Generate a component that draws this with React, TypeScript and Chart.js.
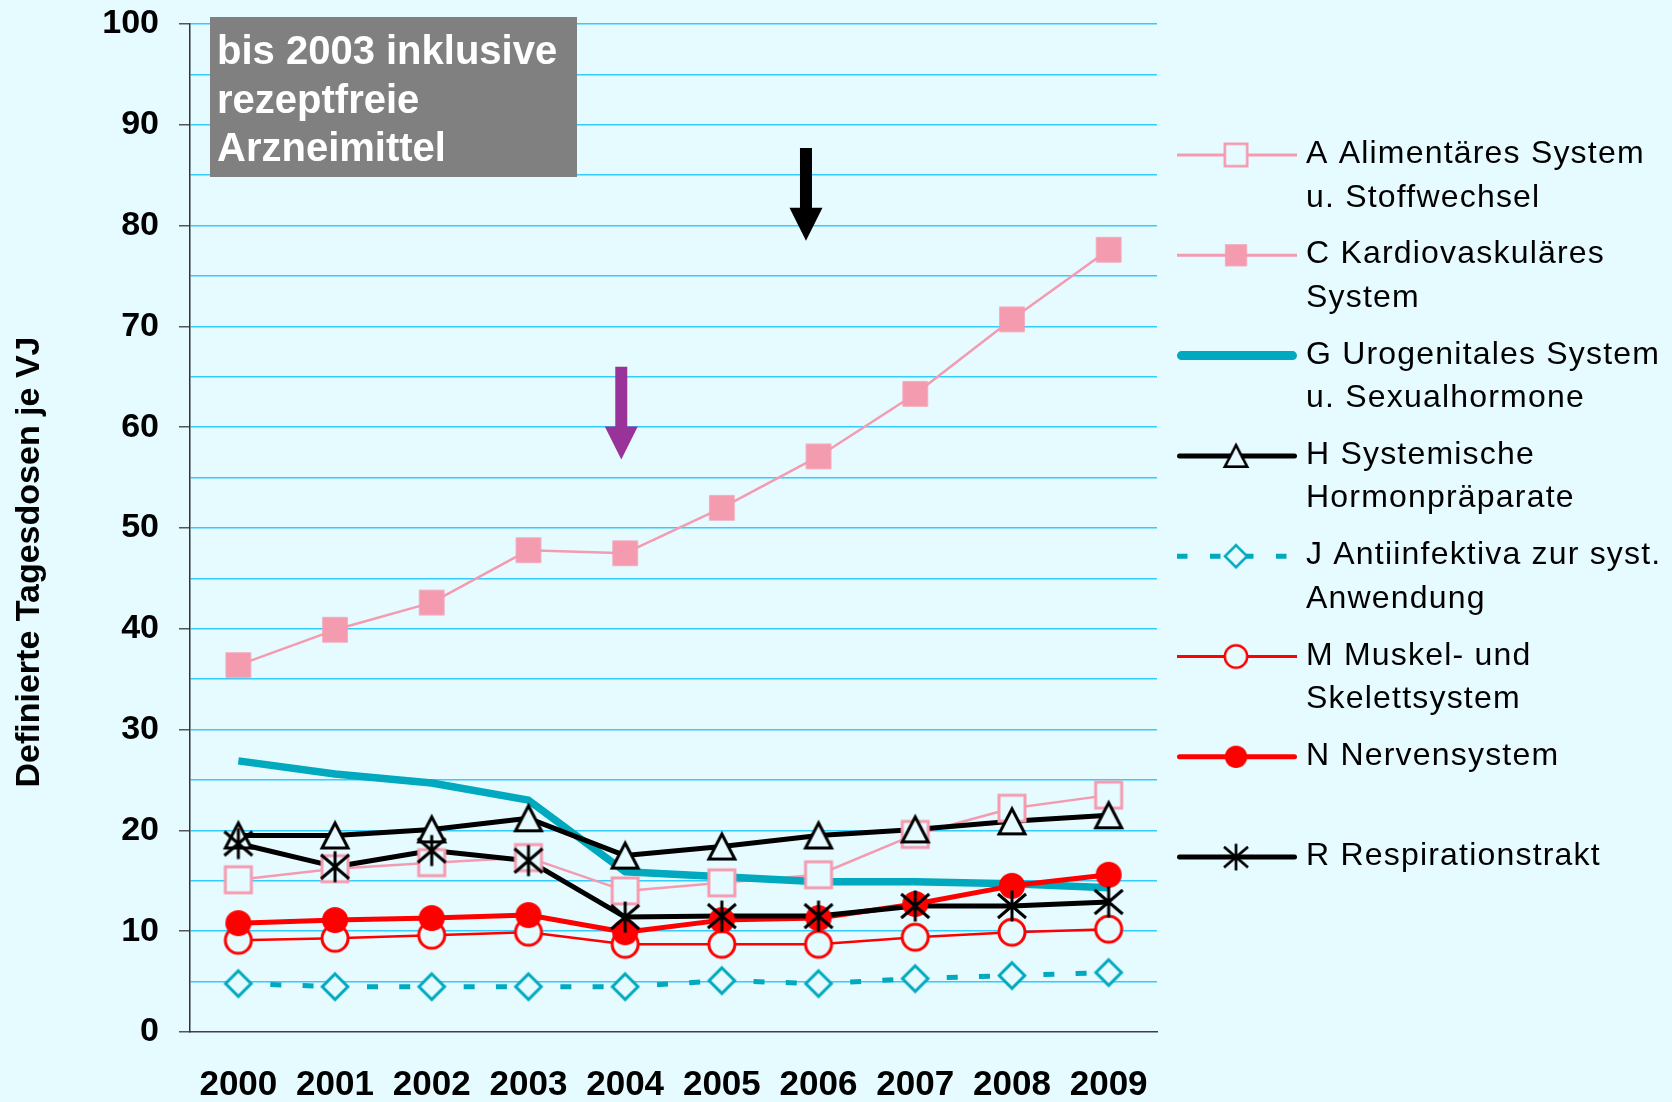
import React, { useEffect, useRef } from 'react';
import { Chart, registerables } from 'chart.js';

Chart.register(...registerables);

// ---------- data ----------
const years = ['2000', '2001', '2002', '2003', '2004', '2005', '2006', '2007', '2008', '2009'];
const alimentaer = [15.1, 16.2, 16.8, 17.3, 14.0, 14.8, 15.6, 19.6, 22.2, 23.5];
const kardiovaskulaer = [36.4, 39.9, 42.6, 47.8, 47.5, 52.0, 57.1, 63.3, 70.7, 77.6];
const urogenital = [26.9, 25.6, 24.7, 23.0, 15.9, 15.4, 14.9, 14.9, 14.7, 14.3];
const hormonpraeparate = [19.5, 19.5, 20.1, 21.2, 17.5, 18.4, 19.5, 20.1, 20.9, 21.5];
const antiinfektiva = [4.8, 4.5, 4.5, 4.5, 4.5, 5.1, 4.8, 5.3, 5.6, 5.9];
const muskelSkelett = [9.1, 9.3, 9.6, 9.9, 8.7, 8.7, 8.7, 9.4, 9.9, 10.2];
const nervensystem = [10.8, 11.1, 11.3, 11.6, 9.9, 11.1, 11.3, 12.7, 14.5, 15.6];
const respirationstrakt = [18.7, 16.4, 18.0, 17.0, 11.4, 11.5, 11.5, 12.5, 12.5, 12.9];

const legendLabels = [
  ['A Alimentäres System', 'u. Stoffwechsel'],
  ['C Kardiovaskuläres', 'System'],
  ['G Urogenitales System', 'u. Sexualhormone'],
  ['H Systemische', 'Hormonpräparate'],
  ['J Antiinfektiva zur syst.', 'Anwendung'],
  ['M Muskel- und', 'Skelettsystem'],
  ['N Nervensystem'],
  ['R Respirationstrakt'],
];

const yAxisTitle = 'Definierte Tagesdosen je VJ';
const yMin = 0;
const yMax = 100;
const yGridStep = 5;
const yLabelStep = 10;

const noteLines = ['bis 2003 inklusive', 'rezeptfreie', 'Arzneimittel'];

// arrows: position on category axis (index units), start value, end (tip) value
const arrowCategoryPos = [3.96, 5.87];
const arrowStartValues = [66.0, 87.7];
const arrowEndValues = [56.8, 78.5];

// ---------- styles ----------
const FONT = "'Liberation Sans', Arial, Helvetica, sans-serif";
const BG = '#E6FBFF';
const GRID = '#33CCFF';
const PINK = '#F59BB0';
const TEAL = '#00A9BE';
const RED = '#FF0000';
const BLACK = '#000000';
const arrowColors = ['#993399', '#000000'];

const seriesValues = [
  alimentaer,
  kardiovaskulaer,
  urogenital,
  hormonpraeparate,
  antiinfektiva,
  muskelSkelett,
  nervensystem,
  respirationstrakt,
];

type SeriesStyle = {
  color: string;
  width: number;
  marker: string | null;
  dash?: number[];
  dashOffset?: number;
  legendWidth: number;
  legendDash?: number[];
  legendCap: CanvasLineCap;
};

const seriesStyles: SeriesStyle[] = [
  { color: PINK, width: 2.5, marker: 'openSquare', legendWidth: 3, legendCap: 'butt' },
  { color: PINK, width: 2.5, marker: 'filledSquare', legendWidth: 3, legendCap: 'butt' },
  { color: TEAL, width: 7.5, marker: null, legendWidth: 9, legendCap: 'round' },
  { color: BLACK, width: 5, marker: 'triangle', legendWidth: 5, legendCap: 'round' },
  {
    color: TEAL,
    width: 5,
    marker: 'diamond',
    dash: [11, 21.23],
    dashOffset: 0.23,
    legendWidth: 5,
    legendDash: [10.5, 22.5],
    legendCap: 'butt',
  },
  { color: RED, width: 2.5, marker: 'openCircle', legendWidth: 3, legendCap: 'butt' },
  { color: RED, width: 5, marker: 'filledCircle', legendWidth: 5, legendCap: 'round' },
  { color: BLACK, width: 5, marker: 'asterisk', legendWidth: 5, legendCap: 'round' },
];

function makeMarker(kind: string): HTMLCanvasElement {
  const s = 34;
  const c = document.createElement('canvas');
  c.width = s;
  c.height = s;
  const ctx = c.getContext('2d') as CanvasRenderingContext2D;
  const m = s / 2;
  ctx.lineJoin = 'miter';
  ctx.lineWidth = 3;
  switch (kind) {
    case 'openSquare':
      ctx.fillStyle = BG;
      ctx.fillRect(m - 13, m - 13, 26, 26);
      ctx.strokeStyle = PINK;
      ctx.strokeRect(m - 13, m - 13, 26, 26);
      break;
    case 'filledSquare':
      ctx.fillStyle = PINK;
      ctx.fillRect(m - 12.75, m - 12.75, 25.5, 25.5);
      break;
    case 'triangle':
      ctx.beginPath();
      ctx.moveTo(m, m - 12.5);
      ctx.lineTo(m + 13, m + 12.5);
      ctx.lineTo(m - 13, m + 12.5);
      ctx.closePath();
      ctx.fillStyle = BG;
      ctx.fill();
      ctx.strokeStyle = BLACK;
      ctx.stroke();
      break;
    case 'diamond':
      ctx.beginPath();
      ctx.moveTo(m, m - 12.8);
      ctx.lineTo(m + 12.8, m);
      ctx.lineTo(m, m + 12.8);
      ctx.lineTo(m - 12.8, m);
      ctx.closePath();
      ctx.fillStyle = BG;
      ctx.fill();
      ctx.strokeStyle = TEAL;
      ctx.stroke();
      break;
    case 'openCircle':
      ctx.beginPath();
      ctx.arc(m, m, 13, 0, Math.PI * 2);
      ctx.fillStyle = BG;
      ctx.fill();
      ctx.strokeStyle = RED;
      ctx.stroke();
      break;
    case 'filledCircle':
      ctx.beginPath();
      ctx.arc(m, m, 13, 0, Math.PI * 2);
      ctx.fillStyle = RED;
      ctx.fill();
      break;
    case 'asterisk':
      ctx.strokeStyle = BLACK;
      ctx.lineCap = 'butt';
      ctx.beginPath();
      ctx.moveTo(m - 14, m - 12);
      ctx.lineTo(m + 14, m + 12);
      ctx.moveTo(m - 14, m + 12);
      ctx.lineTo(m + 14, m - 12);
      ctx.moveTo(m, m - 15.5);
      ctx.lineTo(m, m + 15.5);
      ctx.stroke();
      break;
  }
  return c;
}

export default function App() {
  const canvasRef = useRef<HTMLCanvasElement | null>(null);

  useEffect(() => {
    const canvas = canvasRef.current;
    if (!canvas) return;

    const markers = seriesStyles.map((s) => (s.marker ? makeMarker(s.marker) : null));

    const lineDatasets = seriesValues.map((vals, i) => {
      const st = seriesStyles[i];
      return {
        type: 'line' as const,
        label: legendLabels[i].join(' '),
        data: vals,
        borderColor: st.color,
        borderWidth: st.width,
        borderDash: st.dash || [],
        borderDashOffset: st.dashOffset || 0,
        borderCapStyle: 'butt' as const,
        borderJoinStyle: 'round' as const,
        pointRadius: 0,
        tension: 0,
        fill: false,
        order: 100 - i,
      };
    });

    const markerDatasets: any[] = [];
    seriesValues.forEach((vals, i) => {
      const mk = markers[i];
      if (!mk) return;
      markerDatasets.push({
        type: 'line' as const,
        label: legendLabels[i].join(' ') + ' (Marker)',
        data: vals,
        showLine: false,
        pointStyle: mk,
        pointRadius: 15,
        pointHoverRadius: 15,
        order: 50 - i,
      });
    });

    const backgroundPlugin = {
      id: 'bg',
      beforeDraw(chart: any) {
        const ctx = chart.ctx as CanvasRenderingContext2D;
        ctx.save();
        ctx.fillStyle = BG;
        ctx.fillRect(0, 0, chart.width, chart.height);
        ctx.restore();
      },
    };

    const annotationPlugin = {
      id: 'annotations',
      afterDraw(chart: any) {
        const ctx = chart.ctx as CanvasRenderingContext2D;
        const xs = chart.scales.x;
        const ys = chart.scales.y;
        ctx.save();
        // note box
        const left = chart.chartArea.left + 20;
        ctx.fillStyle = '#808080';
        ctx.fillRect(left, 17, 367, 160);
        ctx.fillStyle = '#FFFFFF';
        ctx.font = `bold 40px ${FONT}`;
        ctx.textAlign = 'left';
        ctx.textBaseline = 'alphabetic';
        noteLines.forEach((t, j) => ctx.fillText(t, left + 7, 64 + 48.5 * j));

        // arrows
        arrowCategoryPos.forEach((pos, i) => {
          const x = xs.getPixelForValue(pos);
          const yTop = ys.getPixelForValue(arrowStartValues[i]);
          const yTip = ys.getPixelForValue(arrowEndValues[i]);
          const headLen = 33;
          const headHalf = 16.5;
          const shaftHalf = 6;
          const yBase = yTip - headLen;
          ctx.fillStyle = arrowColors[i];
          ctx.beginPath();
          ctx.moveTo(x - shaftHalf, yTop);
          ctx.lineTo(x + shaftHalf, yTop);
          ctx.lineTo(x + shaftHalf, yBase);
          ctx.lineTo(x + headHalf, yBase);
          ctx.lineTo(x, yTip);
          ctx.lineTo(x - headHalf, yBase);
          ctx.lineTo(x - shaftHalf, yBase);
          ctx.closePath();
          ctx.fill();
        });

        // y axis title
        ctx.save();
        ctx.translate(30, 562);
        ctx.rotate(-Math.PI / 2);
        ctx.fillStyle = BLACK;
        ctx.font = `bold 34px ${FONT}`;
        ctx.textAlign = 'center';
        ctx.textBaseline = 'middle';
        ctx.fillText(yAxisTitle, 0, 0);
        ctx.restore();

        // legend
        const lx0 = 1177;
        const lx1 = 1297;
        const mx = 1236;
        const tx = 1306;
        legendLabels.forEach((lines, i) => {
          const st = seriesStyles[i];
          const y = 155 + 100.3 * i;
          ctx.save();
          ctx.strokeStyle = st.color;
          ctx.lineWidth = st.legendWidth;
          ctx.lineCap = st.legendCap;
          ctx.setLineDash(st.legendDash || []);
          ctx.lineDashOffset = 0;
          const capPad = st.legendCap === 'round' ? st.legendWidth / 2 : 0;
          ctx.beginPath();
          ctx.moveTo(lx0 + capPad, y);
          ctx.lineTo(lx1 - capPad, y);
          ctx.stroke();
          ctx.restore();
          const mk = markers[i];
          if (mk) {
            const sc = 0.86;
            ctx.drawImage(mk, mx - 17 * sc, y - 17 * sc, 34 * sc, 34 * sc);
          }
          ctx.fillStyle = BLACK;
          ctx.font = `32px ${FONT}`;
          ctx.textAlign = 'left';
          ctx.textBaseline = 'alphabetic';
          (ctx as any).letterSpacing = '1.2px';
          lines.forEach((t, j) => ctx.fillText(t, tx, y + 8 + 43.5 * j));
          (ctx as any).letterSpacing = '0px';
        });
        ctx.restore();
      },
    };

    const chart = new Chart(canvas, {
      type: 'line',
      data: {
        labels: years,
        datasets: [...lineDatasets, ...markerDatasets] as any,
      },
      options: {
        responsive: false,
        animation: false,
        events: [],
        layout: { padding: { top: 24, right: 515, bottom: 0, left: 0 } },
        plugins: {
          legend: { display: false },
          tooltip: { enabled: false },
          title: { display: false },
        },
        scales: {
          x: {
            type: 'category',
            offset: true,
            grid: { display: false, drawTicks: false },
            border: { display: true, color: '#404040', width: 1.5 },
            ticks: {
              color: BLACK,
              font: { family: FONT, size: 35, weight: 'bold' },
              padding: 32,
              maxRotation: 0,
              autoSkip: false,
            },
            afterFit(scale: any) {
              scale.height = 70;
              scale.paddingLeft = 0;
              scale.paddingRight = 0;
            },
          },
          y: {
            type: 'linear',
            min: yMin,
            max: yMax,
            grid: {
              color: (c: any) => (c.tick && c.tick.value === yMin ? 'rgba(0,0,0,0)' : GRID),
              lineWidth: 1.5,
              tickLength: 11,
              tickColor: (c: any) =>
                c.tick && c.tick.value % yLabelStep === 0 ? '#555555' : 'rgba(0,0,0,0)',
              tickWidth: 1.5,
            },
            border: { display: true, color: '#333333', width: 1.5 },
            ticks: {
              stepSize: yGridStep,
              autoSkip: false,
              color: BLACK,
              padding: 20,
              font: { family: FONT, size: 34, weight: 'bold' },
              callback: (v: any) => (Number(v) % yLabelStep === 0 ? String(v) : ''),
            },
            afterFit(scale: any) {
              scale.width = 190;
              scale.paddingTop = 0;
              scale.paddingBottom = 0;
            },
          },
        },
      },
      plugins: [backgroundPlugin, annotationPlugin],
    } as any);

    return () => {
      chart.destroy();
    };
  }, []);

  return (
    <div
      style={{
        position: 'absolute',
        left: 0,
        top: 0,
        width: 1672,
        height: 1102,
        background: BG,
        overflow: 'hidden',
      }}
    >
      <canvas ref={canvasRef} width={1672} height={1102} style={{ display: 'block' }} />
    </div>
  );
}
